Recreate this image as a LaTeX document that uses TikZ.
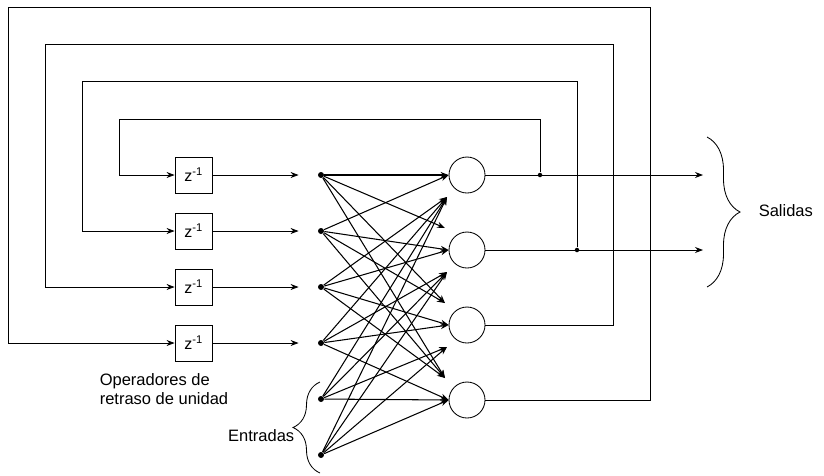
\documentclass[tikz,border=0pt]{standalone}
\usepackage{fontspec}
\setmainfont{Liberation Sans}
\usetikzlibrary{arrows.meta,decorations.pathreplacing}

\begin{document}
\begin{tikzpicture}[x=1pt,y=-1pt,line width=0.85pt,
    flow/.style={-{Stealth[length=8pt,width=6pt]}},
    delay/.style={draw,minimum width=37pt,minimum height=36pt,inner sep=0pt,font=\fontsize{16}{18}\selectfont},
    neuron/.style={draw,circle,minimum size=36pt,inner sep=0pt},
    inpt/.style={circle,fill,inner sep=0pt,minimum size=6pt},
    junction/.style={circle,fill,inner sep=0pt,minimum size=4.5pt},
    txt/.style={font=\fontsize{16.5}{19}\selectfont}]

\useasboundingbox (0,0) rectangle (824,475);

% Draw the unit delays
\foreach \i/\y in {1/175,2/231,3/287,4/343}
    \node[delay] (d\i) at (193.5,\y) {z\textsuperscript{-1}};

% Draw the input points
\foreach \i/\y in {1/175,2/231,3/287,4/343,5/399,6/455}
    \node[inpt] (x\i) at (321,\y) {};

% Draw the neurons and the arrow targets beside them
\foreach \j/\y in {1/175,2/250,3/325,4/400} {
    \node[neuron] (n\j) at (467,\y) {};
    \coordinate (dn\j) at (445,\y-22);
    \coordinate (up\j) at (447,\y+22);
}

% Delay outputs into the input points
\foreach \i in {1,2,3,4}
    \draw[flow,shorten >=19pt] (d\i.east) -- (x\i);

% Connect every input point to every neuron
\foreach \i/\yi in {1/175,2/231,3/287,4/343,5/399,6/455}
    \foreach \j/\yj in {1/175,2/250,3/325,4/400} {
        \pgfmathtruncatemacro\dy{\yi-\yj}
        \ifnum\dy<-60
            \draw[flow,line width=1.05pt] (x\i) -- (dn\j);
        \else\ifnum\dy>60
            \draw[flow,line width=1.05pt] (x\i) -- (up\j);
        \else
            \draw[flow,line width=1.05pt] (x\i) -- (n\j.west);
        \fi\fi
    }

% Outputs
\coordinate (out1) at (703,175);
\coordinate (out2) at (703,250);
\node[junction] (j1) at (540,175) {};
\node[junction] (j2) at (577,250) {};
\draw[flow] (n1.east) -- (out1);
\draw[flow] (n2.east) -- (out2);

% Feedback loops back to the delays
\draw[flow] (j1) |- (119,119) |- (d1.west);
\draw[flow] (j2) |- (82,81) |- (d2.west);
\draw[flow] (n3.east) -| (613,44) -| (45,287) -- (d3.west);
\draw[flow] (n4.east) -| (650,7) -| (8,343) -- (d4.west);

% Braces and labels
\draw[decorate,decoration={brace,amplitude=33pt}] (707,137) -- (707,287);
\node[txt,anchor=west] (sal) at (755,211) {Salidas};
\draw[decorate,decoration={brace,amplitude=27pt}] (320,473) -- (320,382);
\node[txt,anchor=east] (ent) at (298,436) {Entradas};
\node[txt,anchor=west,align=left] (ops) at (96,389.5) {Operadores de\\retraso de unidad};

\end{tikzpicture}
\end{document}
